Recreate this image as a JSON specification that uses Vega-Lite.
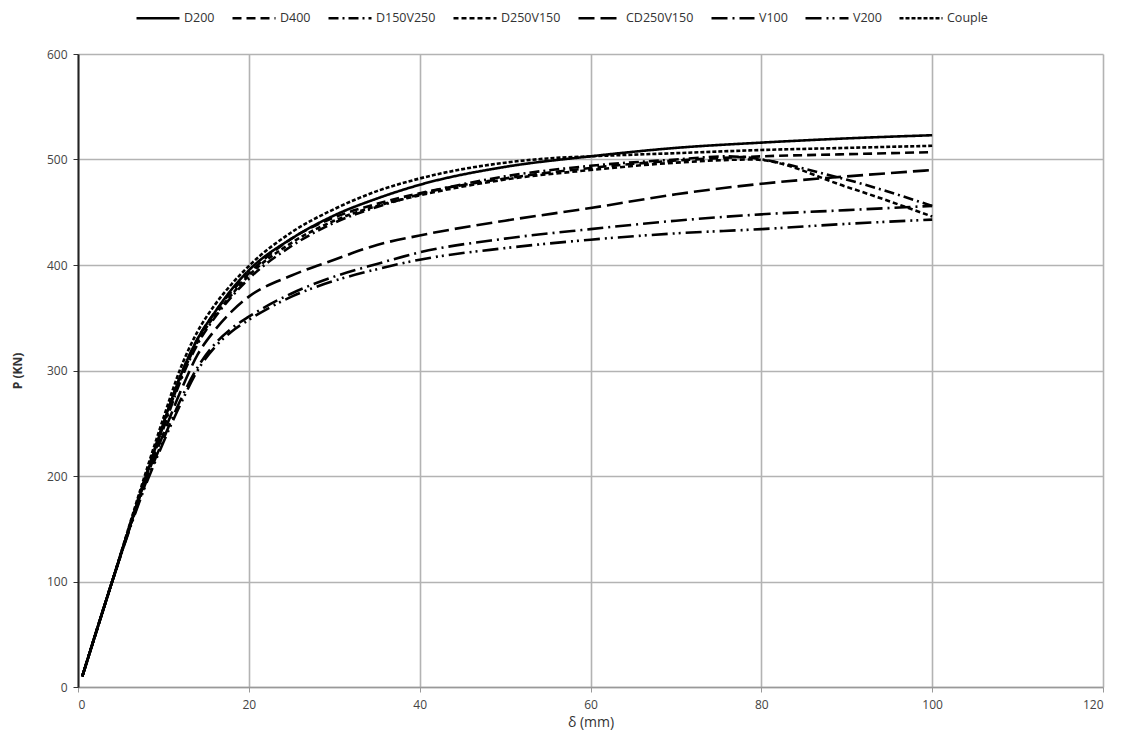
{
  "$schema": "https://vega.github.io/schema/vega-lite/v6.json",
  "width": 1025,
  "height": 633,
  "autosize": {"type": "none"},
  "padding": {"left": 78, "top": 54, "right": 19, "bottom": 61},
  "background": "white",
  "config": {
    "view": {"stroke": null},
    "font": "Open Sans"
  },
  "datasets": {
    "curves": [
      {"s": "D200", "d": 0.5, "p": 10}, {"s": "D200", "d": 4, "p": 100}, {"s": "D200", "d": 8, "p": 200}, {"s": "D200", "d": 10, "p": 250}, {"s": "D200", "d": 12, "p": 295}, {"s": "D200", "d": 14, "p": 330}, {"s": "D200", "d": 16, "p": 355}, {"s": "D200", "d": 18, "p": 377}, {"s": "D200", "d": 20, "p": 395}, {"s": "D200", "d": 25, "p": 425}, {"s": "D200", "d": 30, "p": 447}, {"s": "D200", "d": 35, "p": 463}, {"s": "D200", "d": 40, "p": 476}, {"s": "D200", "d": 50, "p": 493}, {"s": "D200", "d": 60, "p": 503}, {"s": "D200", "d": 70, "p": 511}, {"s": "D200", "d": 80, "p": 516}, {"s": "D200", "d": 90, "p": 520}, {"s": "D200", "d": 100, "p": 523},

      {"s": "D400", "d": 0.5, "p": 10}, {"s": "D400", "d": 4, "p": 100}, {"s": "D400", "d": 8, "p": 202}, {"s": "D400", "d": 10, "p": 250}, {"s": "D400", "d": 12, "p": 295}, {"s": "D400", "d": 14, "p": 330}, {"s": "D400", "d": 16, "p": 355}, {"s": "D400", "d": 18, "p": 375}, {"s": "D400", "d": 20, "p": 392}, {"s": "D400", "d": 25, "p": 425}, {"s": "D400", "d": 30, "p": 445}, {"s": "D400", "d": 35, "p": 458}, {"s": "D400", "d": 40, "p": 468}, {"s": "D400", "d": 50, "p": 482}, {"s": "D400", "d": 60, "p": 492}, {"s": "D400", "d": 70, "p": 499}, {"s": "D400", "d": 80, "p": 503}, {"s": "D400", "d": 90, "p": 505}, {"s": "D400", "d": 100, "p": 507},

      {"s": "D150V250", "d": 0.5, "p": 10}, {"s": "D150V250", "d": 4, "p": 100}, {"s": "D150V250", "d": 8, "p": 200}, {"s": "D150V250", "d": 10, "p": 245}, {"s": "D150V250", "d": 12, "p": 290}, {"s": "D150V250", "d": 14, "p": 325}, {"s": "D150V250", "d": 16, "p": 350}, {"s": "D150V250", "d": 18, "p": 370}, {"s": "D150V250", "d": 20, "p": 387}, {"s": "D150V250", "d": 25, "p": 418}, {"s": "D150V250", "d": 30, "p": 440}, {"s": "D150V250", "d": 35, "p": 455}, {"s": "D150V250", "d": 40, "p": 467}, {"s": "D150V250", "d": 50, "p": 484}, {"s": "D150V250", "d": 60, "p": 494}, {"s": "D150V250", "d": 70, "p": 500}, {"s": "D150V250", "d": 76, "p": 503}, {"s": "D150V250", "d": 89, "p": 483}, {"s": "D150V250", "d": 100, "p": 456},

      {"s": "D250V150", "d": 0.5, "p": 10}, {"s": "D250V150", "d": 4, "p": 100}, {"s": "D250V150", "d": 8, "p": 201}, {"s": "D250V150", "d": 10, "p": 248}, {"s": "D250V150", "d": 12, "p": 292}, {"s": "D250V150", "d": 14, "p": 327}, {"s": "D250V150", "d": 16, "p": 352}, {"s": "D250V150", "d": 18, "p": 372}, {"s": "D250V150", "d": 20, "p": 390}, {"s": "D250V150", "d": 25, "p": 421}, {"s": "D250V150", "d": 30, "p": 442}, {"s": "D250V150", "d": 35, "p": 456}, {"s": "D250V150", "d": 40, "p": 466}, {"s": "D250V150", "d": 50, "p": 481}, {"s": "D250V150", "d": 60, "p": 490}, {"s": "D250V150", "d": 70, "p": 497}, {"s": "D250V150", "d": 79, "p": 500}, {"s": "D250V150", "d": 90, "p": 474}, {"s": "D250V150", "d": 100, "p": 446},

      {"s": "CD250V150", "d": 0.5, "p": 10}, {"s": "CD250V150", "d": 4, "p": 100}, {"s": "CD250V150", "d": 8, "p": 198}, {"s": "CD250V150", "d": 10, "p": 240}, {"s": "CD250V150", "d": 12, "p": 280}, {"s": "CD250V150", "d": 14, "p": 315}, {"s": "CD250V150", "d": 16, "p": 338}, {"s": "CD250V150", "d": 18, "p": 356}, {"s": "CD250V150", "d": 20, "p": 370}, {"s": "CD250V150", "d": 25, "p": 390}, {"s": "CD250V150", "d": 30, "p": 405}, {"s": "CD250V150", "d": 35, "p": 419}, {"s": "CD250V150", "d": 40, "p": 428}, {"s": "CD250V150", "d": 50, "p": 442}, {"s": "CD250V150", "d": 60, "p": 454}, {"s": "CD250V150", "d": 70, "p": 467}, {"s": "CD250V150", "d": 80, "p": 477}, {"s": "CD250V150", "d": 90, "p": 484}, {"s": "CD250V150", "d": 100, "p": 490},

      {"s": "V100", "d": 0.5, "p": 10}, {"s": "V100", "d": 4, "p": 100}, {"s": "V100", "d": 8, "p": 195}, {"s": "V100", "d": 10, "p": 235}, {"s": "V100", "d": 12, "p": 272}, {"s": "V100", "d": 14, "p": 303}, {"s": "V100", "d": 16, "p": 325}, {"s": "V100", "d": 18, "p": 340}, {"s": "V100", "d": 20, "p": 351}, {"s": "V100", "d": 25, "p": 373}, {"s": "V100", "d": 30, "p": 389}, {"s": "V100", "d": 35, "p": 401}, {"s": "V100", "d": 40, "p": 412}, {"s": "V100", "d": 50, "p": 425}, {"s": "V100", "d": 60, "p": 434}, {"s": "V100", "d": 70, "p": 442}, {"s": "V100", "d": 80, "p": 448}, {"s": "V100", "d": 90, "p": 452}, {"s": "V100", "d": 100, "p": 456},

      {"s": "V200", "d": 0.5, "p": 10}, {"s": "V200", "d": 4, "p": 100}, {"s": "V200", "d": 8, "p": 193}, {"s": "V200", "d": 10, "p": 232}, {"s": "V200", "d": 12, "p": 268}, {"s": "V200", "d": 14, "p": 300}, {"s": "V200", "d": 16, "p": 322}, {"s": "V200", "d": 18, "p": 337}, {"s": "V200", "d": 20, "p": 348}, {"s": "V200", "d": 25, "p": 370}, {"s": "V200", "d": 30, "p": 385}, {"s": "V200", "d": 35, "p": 396}, {"s": "V200", "d": 40, "p": 405}, {"s": "V200", "d": 50, "p": 416}, {"s": "V200", "d": 60, "p": 424}, {"s": "V200", "d": 70, "p": 430}, {"s": "V200", "d": 80, "p": 434}, {"s": "V200", "d": 90, "p": 439}, {"s": "V200", "d": 100, "p": 443},

      {"s": "Couple", "d": 0.5, "p": 10}, {"s": "Couple", "d": 4, "p": 100}, {"s": "Couple", "d": 8, "p": 205}, {"s": "Couple", "d": 10, "p": 255}, {"s": "Couple", "d": 12, "p": 302}, {"s": "Couple", "d": 14, "p": 337}, {"s": "Couple", "d": 16, "p": 362}, {"s": "Couple", "d": 18, "p": 382}, {"s": "Couple", "d": 20, "p": 399}, {"s": "Couple", "d": 25, "p": 431}, {"s": "Couple", "d": 30, "p": 453}, {"s": "Couple", "d": 35, "p": 470}, {"s": "Couple", "d": 40, "p": 482}, {"s": "Couple", "d": 50, "p": 497}, {"s": "Couple", "d": 55, "p": 501}, {"s": "Couple", "d": 60, "p": 503}, {"s": "Couple", "d": 70, "p": 506}, {"s": "Couple", "d": 80, "p": 509}, {"s": "Couple", "d": 90, "p": 511}, {"s": "Couple", "d": 100, "p": 513}
    ]
  },
  "data": {"name": "curves"},
  "mark": {"type": "line", "strokeWidth": 2.6, "color": "black", "interpolate": "monotone"},
  "encoding": {
    "x": {
      "field": "d", "type": "quantitative",
      "scale": {"domain": [0, 120], "nice": false},
      "axis": {
        "title": "δ (mm)", "values": [0, 20, 40, 60, 80, 100, 120],
        "titleFont": "Open Sans", "titleFontSize": 14, "titleFontWeight": "normal", "titleColor": "#333", "titlePadding": 5,
        "labelFont": "Open Sans", "labelFontSize": 12, "labelColor": "#444", "labelPadding": 7,
        "grid": true, "gridColor": "#b3b3b3", "gridWidth": 1.6,
        "domainColor": "#999", "domainWidth": 1.6, "tickColor": "#999", "tickSize": 5
      }
    },
    "y": {
      "field": "p", "type": "quantitative",
      "scale": {"domain": [0, 600], "nice": false},
      "axis": {
        "title": "P (KN)", "values": [0, 100, 200, 300, 400, 500, 600],
        "titleFont": "Open Sans", "titleFontSize": 12, "titleFontWeight": "bold", "titleColor": "#333", "titlePadding": 22,
        "labelFont": "Open Sans", "labelFontSize": 12, "labelColor": "#444", "labelPadding": 6,
        "grid": true, "gridColor": "#b3b3b3", "gridWidth": 1.6,
        "domainColor": "#222", "domainWidth": 2, "tickColor": "#333", "tickSize": 5
      }
    },
    "strokeDash": {
      "field": "s", "type": "nominal",
      "scale": {
        "domain": ["D200", "D400", "D150V250", "D250V150", "CD250V150", "V100", "V200", "Couple"],
        "range": [[1, 0], [9, 5], [10, 4, 2, 4], [5, 3], [16, 6], [16, 5, 2, 5], [16, 5, 2, 4, 2, 5], [4, 2]]
      },
      "legend": {
        "title": null, "orient": "none", "legendX": 57, "legendY": -59, "direction": "horizontal",
        "symbolType": "stroke", "symbolSize": 1849, "symbolStrokeWidth": 2.6, "symbolStrokeColor": "black",
        "labelFont": "Open Sans", "labelFontSize": 12.5, "labelColor": "#333", "labelOffset": 3,
        "columnPadding": 12
      }
    },
    "detail": {"field": "s"},
    "order": {"field": "d", "type": "quantitative"}
  }
}
